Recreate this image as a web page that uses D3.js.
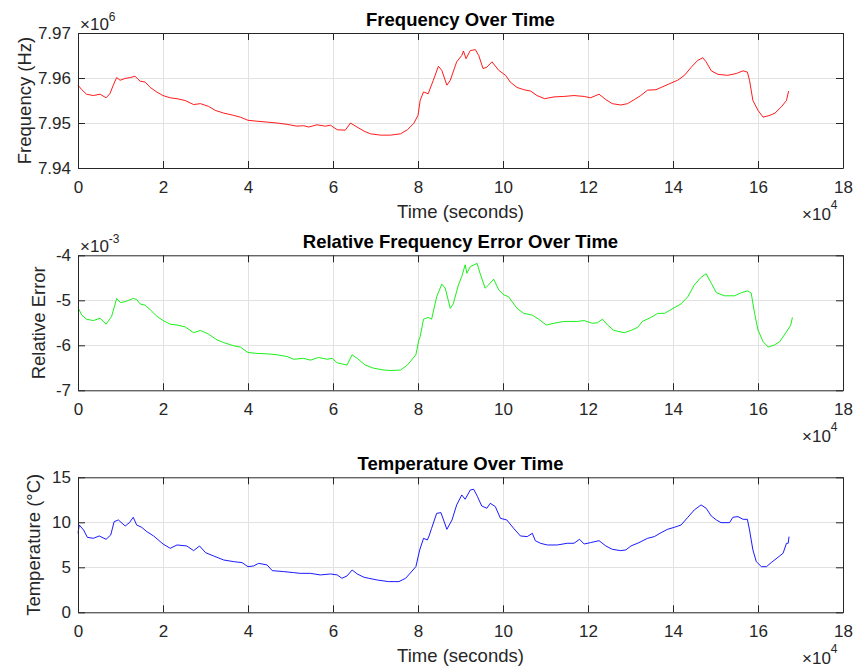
<!DOCTYPE html>
<html>
<head>
<meta charset="utf-8">
<script src="https://cdn.jsdelivr.net/npm/d3@7/dist/d3.min.js"></script>
<style>
  html, body { margin: 0; padding: 0; background: #fff; }
  svg { display: block; }
  text { font-family: "Liberation Sans", Arial, Helvetica, sans-serif; }
</style>
</head>
<body>
<svg id="chart" width="855" height="669"></svg>
<script>
// Frequency of the oscillator (Hz) against elapsed time (s)
const freqTime = [0, 900, 2000, 3600, 5200, 6600, 7500, 8300, 9100, 9900, 11100, 12300, 13400, 14600, 15800, 17000, 18500, 20000, 21700, 23300, 25200, 27200, 28800, 30700, 32300, 34300, 36600, 38200, 40000, 42100, 44500, 46800, 49200, 51500, 53100, 54300, 56200, 58200, 59400, 61000, 62900, 64100, 65300, 67300, 68800, 71200, 73500, 75900, 77500, 79000, 80000, 80500, 81300, 82400, 83600, 84800, 85600, 86800, 87600, 89100, 90300, 90700, 91300, 92300, 93500, 94300, 95300, 96200, 97400, 99000, 100600, 101700, 103300, 104900, 106500, 108000, 109800, 112000, 114300, 116700, 119100, 120600, 122600, 124200, 125700, 127700, 129300, 130900, 132400, 134000, 136000, 137200, 139100, 141100, 142700, 144300, 145800, 147000, 147800, 149000, 150600, 152900, 154900, 156500, 157500, 158000, 158800, 160000, 161200, 162800, 164000, 165500, 166700, 167200];
const freqHz = [7958400, 7957400, 7956400, 7956100, 7956400, 7955600, 7956500, 7958400, 7960100, 7959500, 7959900, 7960100, 7960400, 7959300, 7959100, 7957900, 7956900, 7956100, 7955600, 7955400, 7955000, 7954100, 7954300, 7953700, 7952800, 7952200, 7951700, 7951300, 7950600, 7950400, 7950200, 7950000, 7949700, 7949300, 7949400, 7949100, 7949600, 7949300, 7949500, 7948500, 7948400, 7950000, 7949300, 7948200, 7947600, 7947300, 7947300, 7947600, 7948500, 7949900, 7951700, 7955000, 7956900, 7956500, 7959500, 7962600, 7961700, 7958400, 7959500, 7963600, 7965000, 7966000, 7964300, 7966100, 7966300, 7965000, 7962100, 7962400, 7963600, 7961700, 7960600, 7959100, 7957900, 7957400, 7957100, 7956100, 7955400, 7955800, 7955900, 7956100, 7955900, 7955600, 7956400, 7955200, 7954300, 7954000, 7954300, 7955200, 7956100, 7957300, 7957400, 7957900, 7958700, 7959500, 7960600, 7962400, 7963900, 7964500, 7963600, 7961600, 7960800, 7960600, 7961000, 7961600, 7961300, 7959500, 7955000, 7952800, 7951300, 7951700, 7952200, 7953600, 7955000, 7957100];

// Relative frequency error against elapsed time (s)
const errTime = [0, 900, 2000, 3600, 5200, 6600, 7900, 9100, 10000, 11100, 13000, 13800, 14600, 15800, 17000, 18500, 20000, 21700, 23300, 25200, 27200, 28800, 30700, 32700, 34300, 36600, 38200, 40000, 42100, 44500, 46800, 49200, 50700, 53100, 54700, 56600, 58600, 59800, 61000, 63300, 64500, 65700, 67600, 69600, 72000, 73500, 75900, 77500, 79500, 80200, 80500, 81300, 82400, 83200, 84400, 85600, 86400, 87600, 88300, 89500, 90300, 91100, 91500, 92300, 93900, 94600, 95800, 96600, 97800, 99000, 100200, 101300, 103300, 104900, 106900, 108400, 110200, 112000, 114300, 117500, 119100, 121000, 122200, 123400, 124600, 126100, 128500, 130100, 131700, 132800, 134800, 136400, 138000, 140000, 141900, 143500, 145000, 146600, 147800, 149000, 150200, 152100, 154500, 156100, 157600, 158400, 159200, 160000, 161200, 162400, 163900, 165100, 166700, 167700, 168100];
const relError = [-5.16e-3, -5.33e-3, -5.42e-3, -5.45e-3, -5.40e-3, -5.53e-3, -5.36e-3, -4.96e-3, -5.05e-3, -5.03e-3, -4.96e-3, -4.98e-3, -5.08e-3, -5.11e-3, -5.21e-3, -5.35e-3, -5.45e-3, -5.53e-3, -5.55e-3, -5.59e-3, -5.72e-3, -5.67e-3, -5.75e-3, -5.88e-3, -5.94e-3, -6.01e-3, -6.04e-3, -6.16e-3, -6.18e-3, -6.19e-3, -6.21e-3, -6.25e-3, -6.31e-3, -6.29e-3, -6.33e-3, -6.27e-3, -6.31e-3, -6.29e-3, -6.39e-3, -6.44e-3, -6.21e-3, -6.29e-3, -6.44e-3, -6.51e-3, -6.55e-3, -6.56e-3, -6.55e-3, -6.44e-3, -6.21e-3, -5.88e-3, -5.81e-3, -5.42e-3, -5.38e-3, -5.42e-3, -4.92e-3, -4.64e-3, -4.73e-3, -5.18e-3, -5.08e-3, -4.66e-3, -4.47e-3, -4.21e-3, -4.40e-3, -4.25e-3, -4.18e-3, -4.40e-3, -4.73e-3, -4.66e-3, -4.53e-3, -4.77e-3, -4.88e-3, -4.92e-3, -5.18e-3, -5.29e-3, -5.33e-3, -5.42e-3, -5.55e-3, -5.51e-3, -5.47e-3, -5.47e-3, -5.45e-3, -5.51e-3, -5.50e-3, -5.42e-3, -5.55e-3, -5.67e-3, -5.72e-3, -5.67e-3, -5.60e-3, -5.47e-3, -5.38e-3, -5.29e-3, -5.29e-3, -5.18e-3, -5.08e-3, -4.92e-3, -4.66e-3, -4.49e-3, -4.41e-3, -4.62e-3, -4.83e-3, -4.90e-3, -4.90e-3, -4.83e-3, -4.79e-3, -4.84e-3, -5.29e-3, -5.66e-3, -5.92e-3, -6.04e-3, -5.99e-3, -5.92e-3, -5.70e-3, -5.55e-3, -5.38e-3];

// Temperature (°C) against elapsed time (s)
const tempTime = [0, 300, 1300, 2200, 3600, 5000, 6600, 7700, 8500, 9500, 11100, 12100, 13000, 13800, 15000, 16200, 17800, 20000, 21700, 23300, 25600, 27200, 28600, 30000, 31900, 34300, 36600, 38600, 40000, 41300, 42500, 44500, 45700, 48400, 50700, 52300, 54700, 57000, 59400, 61000, 62100, 63300, 64500, 65700, 67300, 68400, 70400, 73100, 75500, 77100, 79500, 80400, 81300, 82200, 82600, 83200, 84400, 85400, 86800, 88000, 89100, 90300, 91100, 92300, 93100, 94000, 95000, 96200, 97000, 98200, 99400, 100900, 102500, 104100, 105700, 106900, 107600, 108800, 110400, 112800, 115100, 116700, 118000, 119100, 120600, 122600, 124200, 125700, 127700, 128900, 130100, 132000, 134000, 135600, 137200, 138700, 140300, 141900, 143500, 145000, 146600, 147800, 149000, 150200, 151300, 153300, 154100, 155300, 156500, 157500, 158000, 158800, 159600, 160800, 162000, 163100, 164700, 165900, 166700, 167100, 167300];
const tempC = [8.78, 9.7, 9.15, 8.33, 8.22, 8.48, 8.11, 8.59, 10.07, 10.26, 9.59, 9.96, 10.56, 9.7, 9.44, 8.96, 8.48, 7.59, 7.11, 7.48, 7.37, 6.85, 7.37, 6.63, 6.26, 5.81, 5.63, 5.52, 5.07, 5.15, 5.44, 5.26, 4.63, 4.52, 4.41, 4.33, 4.33, 4.15, 4.26, 4.15, 3.78, 4.04, 4.70, 4.26, 3.89, 3.78, 3.59, 3.41, 3.41, 3.78, 5.07, 6.93, 8.22, 8.04, 8.48, 9.33, 11.0, 11.07, 9.22, 10.26, 11.93, 13.04, 12.56, 13.59, 13.67, 12.85, 11.81, 11.56, 12.11, 11.74, 10.44, 10.26, 9.33, 8.48, 8.41, 8.78, 7.96, 7.67, 7.48, 7.48, 7.67, 7.67, 8.11, 7.59, 7.74, 7.96, 7.37, 7.0, 6.85, 6.93, 7.37, 7.74, 8.22, 8.41, 8.85, 9.22, 9.44, 9.70, 10.56, 11.37, 11.93, 11.56, 10.7, 10.26, 9.96, 9.96, 10.56, 10.63, 10.33, 10.33, 9.15, 6.93, 5.63, 5.07, 5.07, 5.52, 6.11, 6.56, 7.67, 7.67, 8.41];

// Axis ticks
const timeTicks = [0, 20000, 40000, 60000, 80000, 100000, 120000, 140000, 160000, 180000];
const freqTicks = [7940000, 7950000, 7960000, 7970000];
const errTicks = [-7e-3, -6e-3, -5e-3, -4e-3];
const tempTicks = [0, 5, 10, 15];

const svg = d3.select("#chart");
svg.append("rect").attr("width", 855).attr("height", 669).attr("fill", "#fff");

const left = 78, plotW = 765, plotH = 135;
const axisColor = "#262626";
const gridColor = "#e2e2e2";

const x = d3.scaleLinear().domain([0, 180000]).range([0, plotW]);

const panels = [
  { top: 33, title: "Frequency Over Time", ylabel: "Frequency (Hz)", ylabelX: 31,
    t: freqTime, v: freqHz, domain: [7940000, 7970000], ticks: freqTicks,
    fmt: d => (d / 1e6).toFixed(2), exp: "6", color: "#ff0000", xlabel: true },
  { top: 255.3, title: "Relative Frequency Error Over Time", ylabel: "Relative Error", ylabelX: 45,
    t: errTime, v: relError, domain: [-7e-3, -4e-3], ticks: errTicks,
    fmt: d => String(Math.round(d * 1e3)), exp: "-3", color: "#00ee00", xlabel: false },
  { top: 477.3, title: "Temperature Over Time", ylabel: "Temperature (°C)", ylabelX: 40,
    t: tempTime, v: tempC, domain: [0, 15], ticks: tempTicks,
    fmt: d => String(d), exp: null, color: "#0000ff", xlabel: true }
];

panels.forEach(p => {
  const y = d3.scaleLinear().domain(p.domain).range([plotH, 0]);
  const g = svg.append("g").attr("transform", `translate(${left},${p.top})`);

  // grid
  const grid = g.append("g");
  grid.selectAll(".gx").data(timeTicks.slice(1, -1)).join("line")
    .attr("x1", d => x(d)).attr("x2", d => x(d))
    .attr("y1", 0).attr("y2", plotH)
    .attr("stroke", gridColor).attr("stroke-width", 1).attr("shape-rendering", "crispEdges");
  grid.selectAll(".gy").data(p.ticks.slice(1, -1)).join("line")
    .attr("x1", 0).attr("x2", plotW)
    .attr("y1", d => y(d)).attr("y2", d => y(d))
    .attr("stroke", gridColor).attr("stroke-width", 1).attr("shape-rendering", "crispEdges");

  // data line
  const pts = p.t.map((t, i) => [t, p.v[i]]);
  g.append("path")
    .datum(pts)
    .attr("fill", "none")
    .attr("stroke", p.color)
    .attr("stroke-width", 0.9)
    .attr("stroke-linejoin", "round")
    .attr("d", d3.line().x(d => x(d[0])).y(d => y(d[1])));

  // axes (ticks point inward, box on)
  const styleAxis = sel => {
    sel.select(".domain").attr("stroke", axisColor).attr("stroke-width", 1);
    sel.selectAll(".tick line").attr("stroke", axisColor).attr("stroke-width", 1);
    sel.selectAll("text").attr("fill", axisColor).style("font-size", "17px")
      .style("font-family", '"Liberation Sans", Arial, Helvetica, sans-serif');
  };
  g.append("g").attr("transform", `translate(0,${plotH})`)
    .call(d3.axisBottom(x).tickValues(timeTicks).tickSizeInner(-7).tickSizeOuter(0)
      .tickPadding(13).tickFormat(d => String(d / 1e4)))
    .call(styleAxis);
  g.append("g")
    .call(d3.axisTop(x).tickValues(timeTicks).tickSizeInner(-7).tickSizeOuter(0).tickFormat(""))
    .call(styleAxis);
  g.append("g")
    .call(d3.axisLeft(y).tickValues(p.ticks).tickSizeInner(-7).tickSizeOuter(0)
      .tickPadding(7).tickFormat(p.fmt))
    .call(styleAxis);
  g.append("g").attr("transform", `translate(${plotW},0)`)
    .call(d3.axisRight(y).tickValues(p.ticks).tickSizeInner(-7).tickSizeOuter(0).tickFormat(""))
    .call(styleAxis);

  // title
  svg.append("text")
    .attr("x", left + plotW / 2).attr("y", p.top - 7)
    .attr("text-anchor", "middle")
    .attr("font-size", 18.5).attr("font-weight", "bold").attr("fill", "#000")
    .text(p.title);

  // y label
  svg.append("text")
    .attr("transform", `translate(${p.ylabelX},${p.top + plotH / 2}) rotate(-90)`)
    .attr("text-anchor", "middle")
    .attr("font-size", 18.5).attr("fill", axisColor)
    .text(p.ylabel);

  // x label
  if (p.xlabel) {
    svg.append("text")
      .attr("x", left + plotW / 2).attr("y", p.top + plotH + 50)
      .attr("text-anchor", "middle")
      .attr("font-size", 18.5).attr("fill", axisColor)
      .text("Time (seconds)");
  }

  // x exponent
  const xe = svg.append("text")
    .attr("x", 802).attr("y", p.top + plotH + 52)
    .attr("font-size", 17).attr("fill", axisColor);
  xe.append("tspan").text("×10");
  xe.append("tspan").attr("font-size", 12).attr("dy", -11).text("4");

  // y exponent
  if (p.exp) {
    const ye = svg.append("text")
      .attr("x", 80).attr("y", p.top - 3)
      .attr("font-size", 17).attr("fill", axisColor);
    ye.append("tspan").text("×10");
    ye.append("tspan").attr("font-size", 12).attr("dy", -9).text(p.exp);
  }
});
</script>
</body>
</html>
